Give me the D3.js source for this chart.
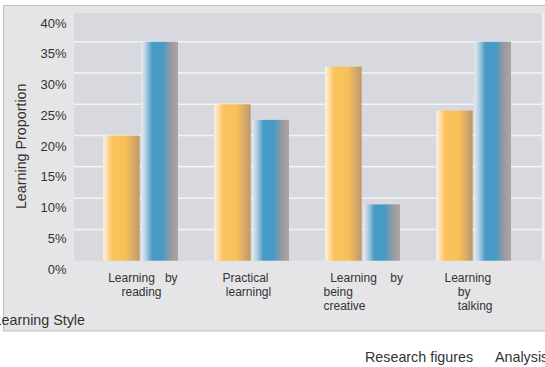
<!DOCTYPE html>
<html>
<head>
<meta charset="utf-8">
<script src="https://cdn.jsdelivr.net/npm/d3@7"></script>
<style>
  html, body { margin: 0; padding: 0; background: #ffffff; }
  svg { display: block; font-family: "Liberation Sans", Arial, sans-serif; }
  text { white-space: pre; }
</style>
</head>
<body>
<svg id="chart" width="545" height="367"></svg>
<script>
// ---- data ----
const categories = ["reading", "practical", "creative", "talking"];
const categoryLabels = [
  ["  Learning   by", "      reading"],
  ["   Practical", "    learningl"],
  ["  Learning    by", "being", "creative"],
  ["   Learning", "       by", "       talking"]
];
const seriesNames = ["Research figures", "Analysis"];
const researchValues = [20, 25, 31, 24];
const analysisValues = [35, 22.5, 9, 35];
const yTicks = [0, 5, 10, 15, 20, 25, 30, 35, 40];
const yTickLabels = ["0%", "5%", "10%", "15%", "20%", "25%", "30%", "35%", "40%"];
const yTitle = "Learning Proportion";
const xTitle = "Learning Style";

const svg = d3.select("#chart");
const W = 545, H = 367;

// outer panel
svg.append("rect").attr("x", 3.5).attr("y", 5.5).attr("width", 560).attr("height", 325.5)
  .attr("fill", "#e5e5e7").attr("stroke", "#bdbdbf").attr("stroke-width", 1);

const plot = { left: 74, right: 542, top: 13, bottom: 260.7 };

const y = d3.scaleLinear().domain([0, 40]).range([plot.bottom, 10.4]);
const yLab = d3.scaleLinear().domain([0, 40]).range([269, 23]);
const x0 = d3.scaleBand().domain(categories).range([85, 529]).padding(0);
const x1 = d3.scaleBand().domain(seriesNames).range([-37.5, 37.5]).paddingInner(0.045);

// plot background
svg.append("rect").attr("x", plot.left).attr("y", plot.top)
  .attr("width", plot.right - plot.left).attr("height", plot.bottom - plot.top)
  .attr("fill", "#d8d9de");

// gridlines
svg.append("g").selectAll("line").data(yTicks.filter(t => t > 0 && t < 40)).join("line")
  .attr("x1", plot.left).attr("x2", plot.right)
  .attr("y1", d => y(d)).attr("y2", d => y(d))
  .attr("stroke", "#f4f4f6").attr("stroke-width", 1.5);
svg.append("line").attr("x1", plot.right + 0.7).attr("x2", plot.right + 0.7)
  .attr("y1", plot.top).attr("y2", plot.bottom).attr("stroke", "#f4f4f6").attr("stroke-width", 1.5);

// gradients
const defs = svg.append("defs");
const og = defs.append("linearGradient").attr("id", "gOrange").attr("x1", "0").attr("x2", "1").attr("y1", "0").attr("y2", "0");
[["0%", "#f2eee8"], ["6%", "#fde9c4"], ["25%", "#fac35d"], ["62%", "#f9c058"], ["88%", "#cfa56c"], ["100%", "#bf9565"]]
  .forEach(s => og.append("stop").attr("offset", s[0]).attr("stop-color", s[1]));
const bg = defs.append("linearGradient").attr("id", "gBlue").attr("x1", "0").attr("x2", "1").attr("y1", "0").attr("y2", "0");
[["0%", "#e6eaf1"], ["12%", "#b5cfe2"], ["30%", "#479ac6"], ["58%", "#479ac6"], ["84%", "#a09a9e"], ["100%", "#aaa5a7"]]
  .forEach(s => bg.append("stop").attr("offset", s[0]).attr("stop-color", s[1]));
const fills = { "Research figures": "url(#gOrange)", "Analysis": "url(#gBlue)" };

// bars
const rows = categories.map((c, i) => ({ cat: c, vals: [
  { s: seriesNames[0], v: researchValues[i] },
  { s: seriesNames[1], v: analysisValues[i] } ] }));
const groups = svg.append("g").selectAll("g").data(rows).join("g")
  .attr("transform", d => `translate(${x0(d.cat) + x0.bandwidth() / 2},0)`);
groups.selectAll("rect").data(d => d.vals).join("rect")
  .attr("x", d => x1(d.s)).attr("width", x1.bandwidth())
  .attr("y", d => y(d.v)).attr("height", d => y(0) - y(d.v))
  .attr("fill", d => fills[d.s]);

// y tick labels
svg.append("g").selectAll("text").data(yTicks).join("text")
  .attr("x", 66.5).attr("y", d => yLab(d)).attr("dy", "0.36em")
  .attr("text-anchor", "end").attr("font-size", 13).attr("fill", "#333")
  .text((d, i) => yTickLabels[i]);

// category labels
const catG = svg.append("g").selectAll("text").data(categories).join("text")
  .attr("font-size", 12).attr("fill", "#333")
  .attr("transform", d => `translate(${x0(d) + x0.bandwidth() / 2 - 39},0)`);
catG.selectAll("tspan").data((d, i) => categoryLabels[i]).join("tspan")
  .attr("x", 0).attr("y", (d, j) => 281.8 + j * 14.3).text(d => d);

// axis titles
svg.append("text").attr("transform", "translate(25.5,146.3) rotate(-90)")
  .attr("text-anchor", "middle").attr("font-size", 14.3).attr("fill", "#333").text(yTitle);
svg.append("text").attr("x", 85).attr("y", 325).attr("text-anchor", "end")
  .attr("font-size", 14.3).attr("fill", "#333").text(xTitle);

// legend labels
const legX = [365, 495];
svg.append("g").selectAll("text").data(seriesNames).join("text")
  .attr("x", (d, i) => legX[i]).attr("y", 361.5).attr("font-size", 14.3).attr("fill", "#333")
  .text(d => d);
</script>
</body>
</html>
